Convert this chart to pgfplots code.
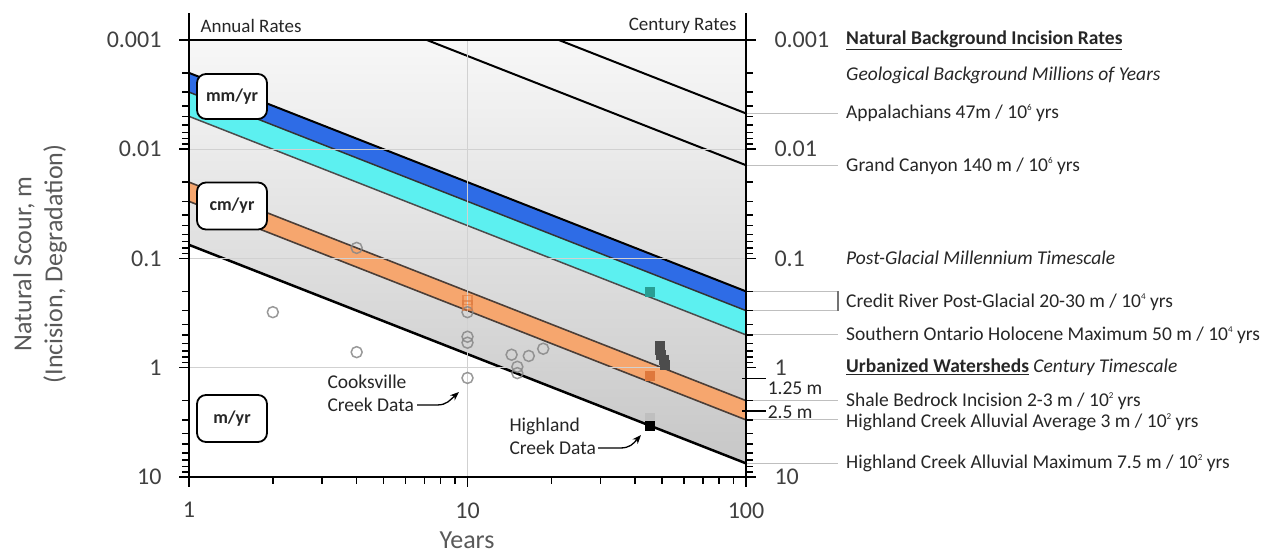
\documentclass[border=0pt]{standalone}
\usepackage{fontspec}
\setmainfont{Carlito}
\usepackage{pgfplots}
\pgfplotsset{compat=1.18}
\usetikzlibrary{arrows.meta}
\definecolor{blueband}{RGB}{46,108,230}
\definecolor{cyanband}{RGB}{92,240,240}
\definecolor{orangeband}{RGB}{246,166,110}
\definecolor{txt}{RGB}{38,38,38}
\definecolor{ticktxt}{RGB}{64,64,64}
\definecolor{lbl}{RGB}{89,89,89}
\definecolor{tealsq}{RGB}{40,158,148}
\definecolor{darkor}{RGB}{222,120,60}
\definecolor{oredge}{RGB}{75,62,55}
\definecolor{circ}{RGB}{135,135,135}
\newcommand\fA{\fontsize{24}{28}\selectfont}
\newcommand\fB{\fontsize{19.5}{23}\selectfont}
\newcommand\fC{\fontsize{19}{22}\selectfont}
\newcommand\fL{\fontsize{26}{31}\selectfont}
\newcommand\sups[1]{\raisebox{0.8ex}{\fontsize{9}{9}\selectfont #1}}
\begin{document}
\begin{tikzpicture}
\path[use as bounding box] (0,0) rectangle (1262pt,556pt);
\begin{axis}[
  at={(189pt,79pt)}, anchor=south west,
  scale only axis, width=557pt, height=437pt,
  xmode=log, ymode=log, y dir=reverse,
  xmin=1, xmax=100, ymin=0.001, ymax=10,
  xtick={1,10,100}, xticklabels={1,10,100},
  minor xtick={2,3,4,5,6,7,8,9,20,30,40,50,60,70,80,90},
  ytick={0.001,0.01,0.1,1,10}, yticklabels={0.001,0.01,0.1,1,10},
  minor ytick={0.002,0.003,0.004,0.005,0.006,0.007,0.008,0.009,0.02,0.03,0.04,0.05,0.06,0.07,0.08,0.09,0.2,0.3,0.4,0.5,0.6,0.7,0.8,0.9,2,3,4,5,6,7,8,9},
  xtick pos=bottom, ytick pos=left,
  tick align=outside,
  major tick length=10pt, minor tick length=7pt,
  every tick/.style={black, line width=1.5pt},
  grid=major, major grid style={black!18, line width=1pt},
  axis line style={line width=2.5pt},
  axis on top, clip=false,
  /pgf/number format/assume math mode=true,
  ticklabel style={font=\fA, text=ticktxt},
  xticklabel shift=12pt, yticklabel shift=14pt,
]
% shaded region above the maximum line
\addplot[draw=none, top color=black!3, bottom color=black!22, forget plot]
  coordinates {(1,0.001) (100,0.001) (100,7.5) (1,0.075)} -- cycle;
% Southern Ontario Holocene band (cyan)
\addplot[draw=none, fill=cyanband, forget plot]
  coordinates {(1,0.003) (100,0.3) (100,0.5) (1,0.005)} -- cycle;
% Credit River band (blue)
\addplot[draw=none, fill=blueband, forget plot]
  coordinates {(1,0.002) (100,0.2) (100,0.3) (1,0.003)} -- cycle;
% Shale bedrock band (orange)
\addplot[draw=none, fill=orangeband, forget plot]
  coordinates {(1,0.02) (100,2) (100,3) (1,0.03)} -- cycle;
% band edges
\addplot[black, line width=2pt] coordinates {(1,0.002) (100,0.2)};
\addplot[black!80, line width=1.5pt] coordinates {(1,0.003) (100,0.3)};
\addplot[black!70, line width=1.5pt] coordinates {(1,0.005) (100,0.5)};
\addplot[oredge, line width=1.6pt] coordinates {(1,0.02) (100,2)};
\addplot[oredge, line width=1.6pt] coordinates {(1,0.03) (100,3)};
% rate lines
\addplot[black, line width=2.5pt] coordinates {(1,0.075) (100,7.5)};
\addplot[black, line width=2pt] coordinates {(21.28,0.001) (100,0.0047)};
\addplot[black, line width=2pt] coordinates {(7.143,0.001) (100,0.014)};
% Cooksville Creek data
\addplot[only marks, mark=o, mark size=5.5pt, circ, line width=1.5pt, opacity=0.85] coordinates {
 (2,0.31) (4,0.72) (4,0.08) (10,0.31) (10,0.52) (10,0.59) (10,1.24)
 (14.4,0.76) (15.1,0.98) (15.1,1.12) (16.6,0.78) (18.7,0.67)};
\addplot[only marks, mark=square, mark size=4.5pt, darkor, line width=1.5pt, opacity=0.6] coordinates {
 (10,0.24) (10,0.27)};
% Highland Creek data
\addplot[only marks, mark=square*, mark size=4.5pt, tealsq, draw=none] coordinates {(45,0.20)};
\addplot[only marks, mark=square*, mark size=4.5pt, black!70, draw=none] coordinates {
 (49,0.63) (49,0.69) (49.5,0.76) (50.5,0.85) (51,0.93)};
\addplot[only marks, mark=square*, mark size=4.5pt, darkor, draw=none] coordinates {(45,1.19)};
\addplot[only marks, mark=square*, mark size=4.5pt, black!25, draw=none] coordinates {(45,2.88)};
\addplot[only marks, mark=square*, mark size=4.5pt, black, draw=none] coordinates {(45,3.41)};
% leader lines on the right
\draw[black!25, line width=1pt] (axis cs:100,0.0047) -- (axis cs:214,0.0047);
\draw[black!25, line width=1pt] (axis cs:100,0.014) -- (axis cs:214,0.014);
\draw[black!25, line width=1pt] (axis cs:100,0.2) -- (axis cs:214,0.2);
\draw[black!25, line width=1pt] (axis cs:100,0.3) -- (axis cs:214,0.3);
\draw[black!55, line width=1.5pt] (axis cs:214,0.2) -- (axis cs:214,0.3);
\draw[black!25, line width=1pt] (axis cs:100,0.5) -- (axis cs:214,0.5);
\draw[black!25, line width=1pt] (axis cs:100,2) -- (axis cs:214,2);
\draw[black!25, line width=1pt] (axis cs:100,3) -- (axis cs:214,3);
\draw[black!25, line width=1pt] (axis cs:100,7.5) -- (axis cs:214,7.5);
\coordinate (TL) at (axis cs:1,0.001);
\coordinate (TR) at (axis cs:100,0.001);
\coordinate (R125) at (axis cs:100,1.25);
\coordinate (R25) at (axis cs:100,2.5);
\end{axis}
% right-hand scale
\begin{axis}[
  at={(189pt,79pt)}, anchor=south west,
  scale only axis, width=557pt, height=437pt,
  xmode=log, ymode=log, y dir=reverse,
  xmin=1, xmax=100, ymin=0.001, ymax=10,
  hide x axis,
  ytick={0.001,0.01,0.1,1,10}, yticklabels={0.001,0.01,0.1,1,10},
  minor ytick={0.002,0.003,0.004,0.005,0.006,0.007,0.008,0.009,0.02,0.03,0.04,0.05,0.06,0.07,0.08,0.09,0.2,0.3,0.4,0.5,0.6,0.7,0.8,0.9,2,3,4,5,6,7,8,9},
  ytick pos=right, yticklabel pos=right,
  tick align=outside,
  major tick length=10pt, minor tick length=7pt,
  every tick/.style={black, line width=1.5pt},
  axis line style={line width=2.5pt},
  /pgf/number format/assume math mode=true,
  ticklabel style={font=\fA, text=ticktxt},
  yticklabel shift=15pt,
]
\addplot[draw=none, forget plot] coordinates {(1,0.001)};
\end{axis}
% axis extensions above the frame and the marked depths
\draw[line width=2.5pt] (TL) -- ++(0,27pt);
\draw[line width=2.5pt] (TR) -- ++(0,27pt);
\draw[black, line width=1.5pt] ([xshift=-4pt]R125) -- ++(24pt,0)
  node[right, inner sep=1pt, yshift=-10pt, font=\fB, text=txt] {1.25 m};
\draw[black, line width=1.5pt] ([xshift=-4pt]R25) -- ++(24pt,0)
  node[right, inner sep=1pt, yshift=-1pt, font=\fB, text=txt] {2.5 m};
% labels
\node[rotate=90, align=center, font=\fL, text=lbl] at (40pt,292pt)
  {Natural Scour, m\\(Incision, Degradation)};
\node[font=\fL, text=lbl] at (467pt,16pt) {Years};
\node[anchor=west, font=\fC, text=txt] at (197pt,530pt) {Annual Rates};
\node[anchor=east, font=\fC, text=txt] at (740pt,530pt) {Century Rates};
\node[draw, line width=1.8pt, rounded corners=9pt, fill=white, minimum width=70pt, minimum height=45pt, font=\fontsize{18}{21}\selectfont\bfseries, text=txt] at (232pt,459.5pt) {mm/yr};
\node[draw, line width=1.8pt, rounded corners=9pt, fill=white, minimum width=70pt, minimum height=47pt, font=\fontsize{18}{21}\selectfont\bfseries, text=txt] at (232pt,350pt) {cm/yr};
\node[draw, line width=1.8pt, rounded corners=9pt, fill=white, minimum width=70pt, minimum height=47pt, font=\fontsize{18}{21}\selectfont\bfseries, text=txt] at (232pt,137.5pt) {m/yr};
% data callouts
\node[anchor=west, align=left, font=\fB, text=txt] at (324pt,163pt) {Cooksville\\Creek Data};
\draw[-{Stealth[length=9pt,width=7pt]}, line width=1.3pt] (417pt,151pt) -- (437pt,151pt) .. controls (447pt,151pt) and (450pt,156pt) .. (459pt,164pt);
\node[anchor=west, align=left, font=\fB, text=txt] at (506pt,120pt) {Highland\\Creek Data};
\draw[-{Stealth[length=9pt,width=7pt]}, line width=1.3pt] (598pt,108pt) -- (620pt,108pt) .. controls (630pt,108pt) and (633pt,112pt) .. (641pt,121pt);
% right-hand annotations
\begin{scope}[every node/.style={anchor=west, font=\fB, text=txt, inner sep=0pt}]
\node at (846pt,516pt) {\underline{\textbf{Natural Background Incision Rates}}};
\node at (846pt,481pt) {\textit{Geological Background Millions of Years}};
\node at (846pt,443pt) {Appalachians 47m / 10\sups{6} yrs};
\node at (846pt,390pt) {Grand Canyon 140 m / 10\sups{6} yrs};
\node at (846pt,298pt) {\textit{Post-Glacial Millennium Timescale}};
\node at (846pt,254pt) {Credit River Post-Glacial 20-30 m / 10\sups{4} yrs};
\node at (846pt,221pt) {Southern Ontario Holocene Maximum 50 m / 10\sups{4} yrs};
\node at (846pt,189pt) {\underline{\textbf{Urbanized Watersheds}} \textit{Century Timescale}};
\node at (846pt,155pt) {Shale Bedrock Incision 2-3 m / 10\sups{2} yrs};
\node at (846pt,134pt) {Highland Creek Alluvial Average 3 m / 10\sups{2} yrs};
\node at (846pt,93pt) {Highland Creek Alluvial Maximum 7.5 m / 10\sups{2} yrs};
\end{scope}
\end{tikzpicture}
\end{document}
